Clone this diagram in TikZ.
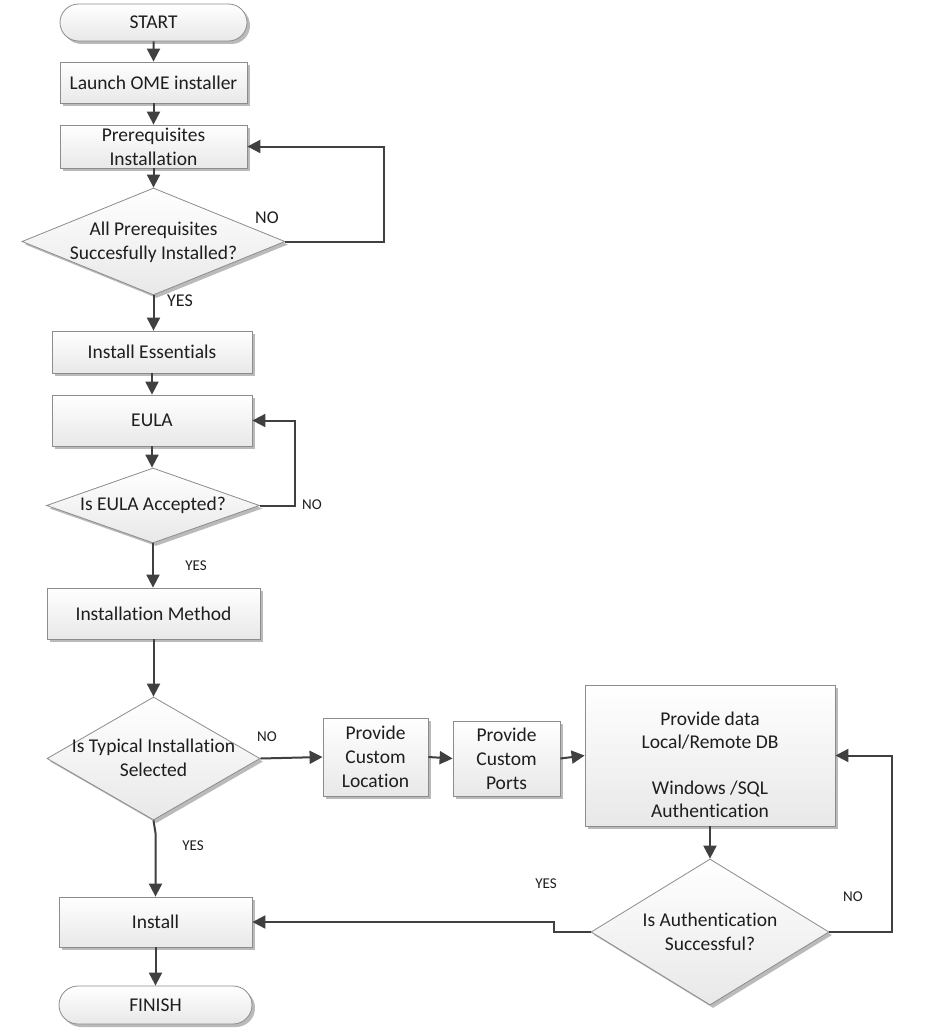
\documentclass[tikz,border=0pt]{standalone}
\usepackage{fontspec}
\setmainfont{Carlito}[Ligatures={NoCommon,NoRare,NoDiscretionary}]
\usetikzlibrary{shapes.geometric,shapes.misc,arrows.meta,shadows}
\definecolor{lnc}{HTML}{404040}
\definecolor{bdc}{HTML}{8C8C8C}
\definecolor{txc}{HTML}{1E1E1E}
\begin{document}
\begin{tikzpicture}[x=1pt,y=-1pt,
  base/.style={draw=bdc,line width=0.8pt,top color=white,bottom color=black!9,
    drop shadow={shadow xshift=3pt,shadow yshift=-3pt,fill=black!45,opacity=0.6},
    inner sep=0pt,text=txc,font=\fontsize{19.5}{24}\selectfont,align=center},
  proc/.style={base,rectangle},
  term/.style={base,rounded rectangle},
  dec/.style={base,diamond},
  dtext/.style={text=txc,font=\fontsize{19.5}{23.5}\selectfont,align=center,inner sep=0pt},
  lblbig/.style={text=txc,font=\fontsize{18}{20}\selectfont,inner sep=0pt},
  lbl/.style={text=txc,font=\fontsize{15}{18}\selectfont,inner sep=0pt},
  conn/.style={draw=lnc,line width=2pt,-{Triangle[length=13pt,width=13pt]}}]
\useasboundingbox[fill=white] (0,0) rectangle (936,1030);

% nodes
\node[term,minimum width=187pt,minimum height=37pt] (start) at (153.5,22.5) {START};
\node[proc,minimum width=187pt,minimum height=41pt] (launch) at (153.5,82.5) {Launch OME installer};
\node[proc,minimum width=187pt,minimum height=43pt] (prereq) at (153.5,146.5) {Prerequisites\\Installation};
\node[dec,minimum width=263pt,minimum height=107pt] (d1) at (153.5,241.5) {};
\node[dtext] (d1t) at (153.5,242.5) {All Prerequisites\\Succesfully Installed?};
\node[proc,minimum width=200pt,minimum height=42pt] (ess) at (152,352) {Install Essentials};
\node[proc,minimum width=200pt,minimum height=51pt] (eula) at (152,420.5) {EULA};
\node[dec,minimum width=213pt,minimum height=75pt] (d2) at (153,505.5) {};
\node[dtext] (d2t) at (153,505.5) {Is EULA Accepted?};
\node[proc,minimum width=213pt,minimum height=51pt] (meth) at (153.5,613.5) {Installation Method};
\node[dec,minimum width=213pt,minimum height=123pt] (d3) at (153.5,758.5) {};
\node[dtext] (d3t) at (153.5,758) {Is Typical Installation\\Selected};
\node[proc,minimum width=105pt,minimum height=78pt] (loc) at (375.5,757) {Provide\\Custom\\Location};
\node[proc,minimum width=107pt,minimum height=75pt] (ports) at (506.5,758.5) {Provide\\Custom\\Ports};
\node[proc,minimum width=250pt,minimum height=141pt] (db) at (710,755.5) {};
\node[dtext] (dbt) at (710,765) {Provide data\\Local/Remote DB\\[22pt]Windows /SQL\\Authentication};
\node[dec,minimum width=238pt,minimum height=146pt] (d4) at (710,932) {};
\node[dtext] (d4t) at (710,932) {Is Authentication\\Successful?};
\node[proc,minimum width=193pt,minimum height=50pt] (inst) at (155.5,922) {Install};
\node[term,minimum width=193pt,minimum height=38pt] (fin) at (155.5,1005) {FINISH};

% connectors
\draw[conn] (start) -- (launch);
\draw[conn] (launch) -- (prereq);
\draw[conn] (prereq) -- (d1);
\draw[conn] (d1.south) -- (d1.south |- ess.north);
\draw[conn] (d1.east) -- ++(99,0) |- (prereq.east);
\draw[conn] (ess.south) -- (ess.south |- eula.north);
\draw[conn] (eula.south) -- (eula.south |- d2.north);
\draw[conn] (d2.east) -- ++(35,0) |- (eula.east);
\draw[conn] (d2.south) -- (d2.south |- meth.north);
\draw[conn] (meth.south) -- (d3.north);
\draw[conn] (d3.east) -- (loc.west);
\draw[conn] (loc.east) -- (ports.west);
\draw[conn] (ports.east) -- (db.west);
\draw[conn] (db.south) -- (d4.north);
\draw[conn] (d4.east) -- ++(63,0) |- (db.east);
\draw[conn] (d4.west) -- ++(-37,0) |- (inst.east);
\coordinate (bend3) at (155.5,833);
\draw[conn] (d3.south) -- (bend3) -- (inst.north);
\draw[conn] (inst) -- (fin);

% labels
\node[lblbig] (no1) at (267,218) {NO};
\node[lblbig] (yes1) at (180,301) {YES};
\node[lbl] (no2) at (312,505) {NO};
\node[lbl] (yes2) at (196,566) {YES};
\node[lbl] (no3) at (267,737) {NO};
\node[lbl] (yes3) at (193,846) {YES};
\node[lbl] (yes4) at (546,884) {YES};
\node[lbl] (no4) at (853,897) {NO};
\end{tikzpicture}
\end{document}
